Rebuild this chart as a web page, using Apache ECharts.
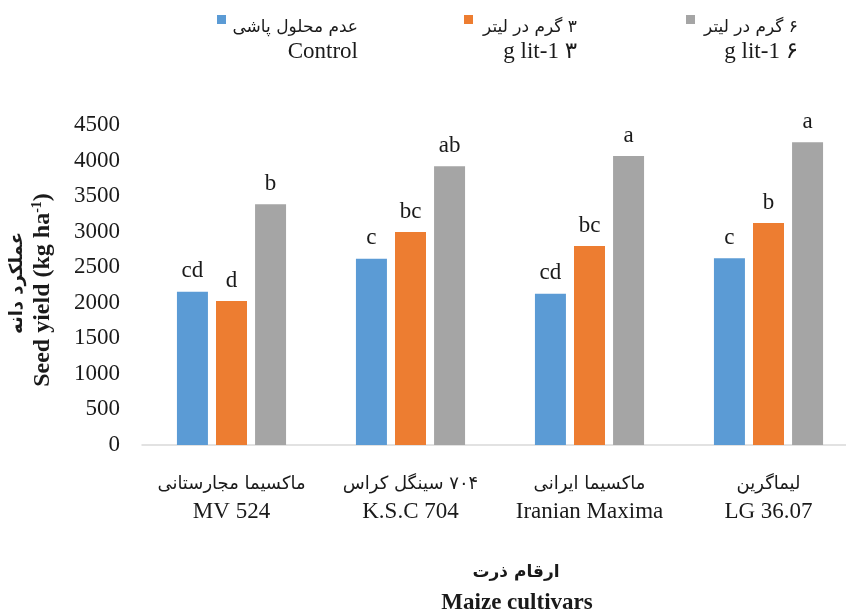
<!DOCTYPE html>
<html>
<head>
<meta charset="utf-8">
<script src="https://cdn.jsdelivr.net/npm/echarts@6/dist/echarts.min.js"></script>
<style>html,body{margin:0;padding:0;background:#fff}#c{width:846px;height:616px}</style>
</head>
<body>
<div id="c"></div>
<script>
const categoriesEn = ['MV 524', 'K.S.C 704', 'Iranian Maxima', 'LG 36.07'];
const categoriesFa = ['ماکسیما مجارستانی', 'سینگل کراس\u200E ۷۰۴', 'ماکسیما ایرانی', 'لیماگرین'];
const seriesNames = ['Control', 'g lit-1 ۳', 'g lit-1 ۶'];
const seriesNamesFa = ['عدم محلول پاشی', '\u200F۳ گرم در لیتر', '\u200F۶ گرم در لیتر'];
const controlValues = [2156, 2620, 2128, 2625];
const g3Values = [2025, 2995, 2798, 3122];
const g6Values = [3385, 3919, 4064, 4257];
const controlLetters = ['cd', 'c', 'cd', 'c'];
const g3Letters = ['d', 'bc', 'bc', 'b'];
const g6Letters = ['b', 'ab', 'a', 'a'];
const yMin = 0, yMax = 4500, yInterval = 500;

const colors = ['#5B9BD5', '#ED7D31', '#A5A5A5'];
const SERIF = 'Liberation Serif, Times New Roman, DejaVu Sans';
const FA = 'DejaVu Sans';

const chart = echarts.init(document.getElementById('c'));

const legendLefts = [217, 464, 686];
const legendWidths = [127, 99, 98];
const legends = seriesNames.map((n, i) => ({
  data: [n],
  left: legendLefts[i],
  top: 15,
  padding: 0,
  icon: 'rect',
  itemWidth: 9,
  itemHeight: 9,
  itemGap: 5,
  formatter: name => '{p|' + seriesNamesFa[i] + '}\n{e|' + name + '}',
  textStyle: {
    padding: [40, 0, 0, 0],
    rich: {
      p: {width: legendWidths[i], align: 'right', fontFamily: FA, fontSize: 17, lineHeight: 24, color: '#1a1a1a'},
      e: {width: legendWidths[i], align: 'right', fontFamily: SERIF, fontSize: 23, lineHeight: 24, color: '#1a1a1a'}
    }
  }
}));

const letterSets = [controlLetters, g3Letters, g6Letters];
const valueSets = [controlValues, g3Values, g6Values];

const series = seriesNames.map((n, i) => ({
  name: n,
  type: 'bar',
  data: valueSets[i],
  barWidth: 31,
  barGap: '26%',
  itemStyle: {color: colors[i]},
  label: {
    show: true,
    position: 'top',
    distance: 9,
    formatter: p => letterSets[i][p.dataIndex],
    fontFamily: SERIF,
    fontSize: 23,
    color: '#1a1a1a'
  }
}));

chart.setOption({
  animation: false,
  backgroundColor: '#fff',
  legend: legends,
  grid: {left: 142, width: 716, top: 125, bottom: 171, containLabel: false, outerBoundsMode: 'none'},
  xAxis: {
    type: 'category',
    data: categoriesEn,
    axisLine: {lineStyle: {color: '#d9d9d9', width: 1.5}},
    axisTick: {show: false},
    axisLabel: {
      margin: 25,
      interval: 0,
      formatter: (v, idx) => '{fa|' + categoriesFa[idx] + '}\n{en|' + v + '}',
      rich: {
        fa: {fontFamily: FA, fontSize: 18, lineHeight: 28, color: '#1a1a1a'},
        en: {fontFamily: SERIF, fontSize: 23, lineHeight: 28, color: '#1a1a1a'}
      }
    }
  },
  yAxis: {
    type: 'value',
    min: yMin,
    max: yMax,
    interval: yInterval,
    axisLine: {show: false},
    axisTick: {show: false},
    splitLine: {show: false},
    axisLabel: {margin: 22, fontFamily: SERIF, fontSize: 23, color: '#1a1a1a', formatter: v => String(v)}
  },
  graphic: [
    {type: 'text', x: 17, y: 283, rotation: Math.PI / 2,
     style: {text: 'عملکرد دانه', fontFamily: FA, fontWeight: 'bold', fontSize: 18, align: 'center', verticalAlign: 'middle', fill: '#1a1a1a'}},
    {type: 'text', x: 43, y: 290, rotation: Math.PI / 2,
     style: {text: '{b|Seed yield (kg ha}{s|-1}{b|)}', align: 'center', verticalAlign: 'middle',
       rich: {b: {fontFamily: SERIF, fontWeight: 'bold', fontSize: 24, lineHeight: 26, fill: '#1a1a1a'},
              s: {fontFamily: SERIF, fontWeight: 'bold', fontSize: 14, lineHeight: 26, verticalAlign: 'top', fill: '#1a1a1a'}}}},
    {type: 'text', x: 516, y: 573,
     style: {text: 'ارقام ذرت', fontFamily: FA, fontWeight: 'bold', fontSize: 17, align: 'center', verticalAlign: 'middle', fill: '#1a1a1a'}},
    {type: 'text', x: 517, y: 603,
     style: {text: 'Maize cultivars', fontFamily: SERIF, fontWeight: 'bold', fontSize: 23, align: 'center', verticalAlign: 'middle', fill: '#1a1a1a'}}
  ],
  series: series
});
</script>
</body>
</html>
